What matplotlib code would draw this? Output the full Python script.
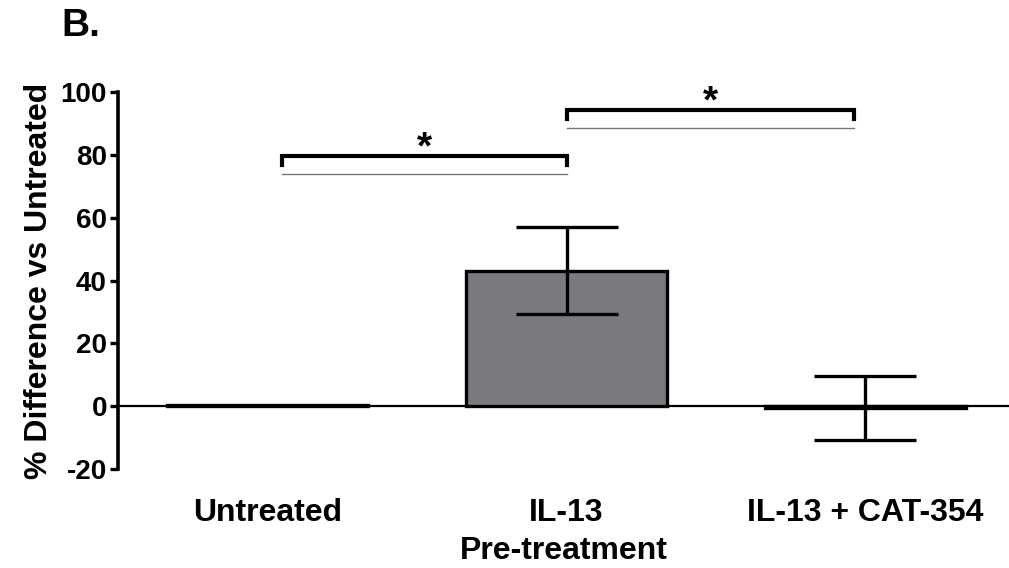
import matplotlib
matplotlib.use("Agg")
import matplotlib.pyplot as plt
import numpy as np

plt.rcParams['font.family'] = ['Liberation Sans', 'DejaVu Sans']
plt.rcParams['font.weight'] = 'bold'
plt.rcParams['axes.unicode_minus'] = False

# data
categories = ["Untreated", "IL-13", "IL-13 + CAT-354"]
means = [0.3, 43.1, -0.7]
errors = [0.0, 13.9, 10.2]
colours = ["white", "#7a7b7f", "white"]

# significance brackets: (left, right, height)
brackets = [(0.05, 1.0, 79.6), (1.0, 1.96, 94.3)]
stars = ["*", "*"]

fig = plt.figure(figsize=(10.09, 5.68), dpi=100)
ax = fig.add_axes([0.117, 0.1743, 0.883, 0.6637])

x = np.arange(len(categories))
ax.bar(x, means, width=0.67, color=colours, edgecolor="black", linewidth=2.4, zorder=2)
show = [i for i in range(len(x)) if errors[i] > 0]
ax.errorbar(x[show], [means[i] for i in show], yerr=[errors[i] for i in show],
            fmt="none", ecolor="black", elinewidth=2.4, capsize=37, capthick=2.4, zorder=3)

ax.axhline(0, color="black", lw=1.6, zorder=1)

for (x1, x2, h), s in zip(brackets, stars):
    ax.plot([x1, x1, x2, x2], [h - 2.8, h, h, h - 2.8], color="black", lw=3.0,
            clip_on=False, solid_joinstyle="miter")
    ax.plot([x1, x2], [h - 5.6, h - 5.6], color="#777777", lw=1.0, clip_on=False)
    ax.text((x1 + x2) / 2, h + 2.5, s, ha="center", va="center", fontsize=28,
            fontweight="bold", clip_on=False)

ax.set_xlim(-0.5, 2.48)
ax.set_ylim(-20, 100)
ax.set_yticks([-20, 0, 20, 40, 60, 80, 100])
ax.set_xticks(x)
ax.set_xticklabels(categories, fontsize=23, fontweight="bold")
ax.tick_params(axis="x", length=0, pad=21)
ax.tick_params(axis="y", length=6, width=2.4, labelsize=20, pad=2)
for lab in ax.get_yticklabels():
    lab.set_fontweight("bold")

for side in ["top", "right", "bottom"]:
    ax.spines[side].set_visible(False)
ax.spines["left"].set_linewidth(2.6)

ax.set_ylabel("% Difference vs Untreated", fontsize=23, fontweight="bold", labelpad=5)
ax.set_xlabel("Pre-treatment", fontsize=23, fontweight="bold", labelpad=6)

fig.text(0.061, 0.954, "B.", fontsize=28, fontweight="bold", ha="left", va="center")

plt.savefig("out.png", dpi=100)
